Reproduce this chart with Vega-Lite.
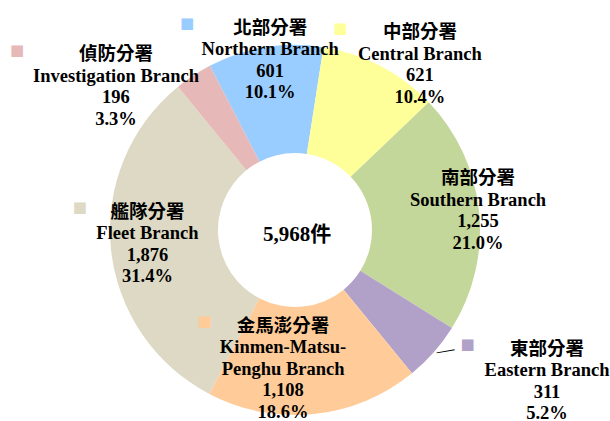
{
  "$schema": "https://vega.github.io/schema/vega-lite/v6.json",
  "width": 590,
  "height": 382,
  "padding": {"left": 0, "top": 39, "right": 20, "bottom": 0},
  "autosize": {"type": "none"},
  "background": "white",
  "config": {"view": {"stroke": null}},
  "data": {"values": [
    {"zh": "北部分署", "en": "Northern Branch", "count": 601, "order": 1},
    {"zh": "中部分署", "en": "Central Branch", "count": 621, "order": 2},
    {"zh": "南部分署", "en": "Southern Branch", "count": 1255, "order": 3},
    {"zh": "東部分署", "en": "Eastern Branch", "count": 311, "order": 4},
    {"zh": "金馬澎分署", "en": "Kinmen-Matsu-\nPenghu Branch", "count": 1108, "order": 5},
    {"zh": "艦隊分署", "en": "Fleet Branch", "count": 1876, "order": 6},
    {"zh": "偵防分署", "en": "Investigation Branch", "count": 196, "order": 7}
  ]},
  "transform": [
    {"window": [{"op": "sum", "field": "count", "as": "cumEnd"}], "sort": [{"field": "order"}], "frame": [null, 0]},
    {"joinaggregate": [{"op": "sum", "field": "count", "as": "total"}]},
    {"calculate": "datum.cumEnd - datum.count", "as": "cumStart"},
    {"calculate": "datum.cumEnd - datum.count / 2", "as": "mid"},
    {"calculate": "datum.zh + '\\n' + datum.en + '\\n' + format(datum.count, ',') + '\\n' + format(datum.count / datum.total, '.1%')", "as": "label"}
  ],
  "layer": [
    {
      "mark": {"type": "arc", "innerRadius": 77, "outerRadius": 185},
      "encoding": {
        "theta": {"field": "cumEnd", "type": "quantitative", "stack": null, "scale": {"range": [-0.4782, 5.805], "zero": true, "nice": false}},
        "theta2": {"field": "cumStart"},
        "color": {"field": "zh", "type": "nominal", "legend": null,
          "scale": {"domain": ["北部分署", "中部分署", "南部分署", "東部分署", "金馬澎分署", "艦隊分署", "偵防分署"],
                    "range": ["#99CCFF", "#FFFF99", "#C4D79B", "#B1A0C7", "#FFCC99", "#DDD9C4", "#E6B8B7"]}}
      }
    },
    {
      "transform": [
        {"aggregate": [{"op": "sum", "field": "count", "as": "tot"}]},
        {"calculate": "format(datum.tot, ',') + '件'", "as": "t"}
      ],
      "mark": {"type": "text", "font": "Liberation Serif, Noto Sans CJK TC", "fontSize": 21, "fontWeight": "bold", "color": "black", "dx": 2, "dy": 5, "align": "center", "baseline": "middle"},
      "encoding": {"text": {"field": "t"}}
    },
    {
      "transform": [{"filter": "datum.order == 1"}],
      "encoding": {"theta": {"field": "mid", "type": "quantitative", "stack": null}},
      "layer": [
        {"mark": {"type": "text", "radius": 173, "dx": 3, "dy": -31.5, "align": "center", "baseline": "middle", "lineBreak": "\n", "lineHeight": 21.5, "font": "Liberation Serif, Noto Sans CJK TC", "fontSize": 18.5, "fontWeight": "bold", "color": "black"},
         "encoding": {"text": {"field": "label"}}},
        {"mark": {"type": "text", "radius": 173, "dx": -80, "dy": -36, "align": "center", "baseline": "middle", "font": "DejaVu Sans", "fontSize": 15},
         "encoding": {"text": {"value": "■"}, "color": {"field": "zh", "type": "nominal", "legend": null}}}
      ]
    },
    {
      "transform": [{"filter": "datum.order == 2"}],
      "encoding": {"theta": {"field": "mid", "type": "quantitative", "stack": null}},
      "layer": [
        {"mark": {"type": "text", "radius": 208, "dx": 28.6, "dy": -13.5, "align": "center", "baseline": "middle", "lineBreak": "\n", "lineHeight": 21.5, "font": "Liberation Serif, Noto Sans CJK TC", "fontSize": 18.5, "fontWeight": "bold", "color": "black"},
         "encoding": {"text": {"field": "label"}}},
        {"mark": {"type": "text", "radius": 208, "dx": -50.9, "dy": -17.7, "align": "center", "baseline": "middle", "font": "DejaVu Sans", "fontSize": 15},
         "encoding": {"text": {"value": "■"}, "color": {"field": "zh", "type": "nominal", "legend": null}}}
      ]
    },
    {
      "transform": [{"filter": "datum.order == 3"}],
      "encoding": {"theta": {"field": "mid", "type": "quantitative", "stack": null}},
      "layer": [
        {"mark": {"type": "text", "radius": 184, "dx": 0, "dy": -33, "align": "center", "baseline": "middle", "lineBreak": "\n", "lineHeight": 21.5, "font": "Liberation Serif, Noto Sans CJK TC", "fontSize": 18.5, "fontWeight": "bold", "color": "black"},
         "encoding": {"text": {"field": "label"}}}
      ]
    },
    {
      "transform": [{"filter": "datum.order == 4"}],
      "encoding": {"theta": {"field": "mid", "type": "quantitative", "stack": null}},
      "layer": [
        {"mark": {"type": "text", "radius": 293, "dx": 32.2, "dy": -75, "align": "center", "baseline": "middle", "lineBreak": "\n", "lineHeight": 21.5, "font": "Liberation Serif, Noto Sans CJK TC", "fontSize": 18.5, "fontWeight": "bold", "color": "black"},
         "encoding": {"text": {"field": "label"}}},
        {"mark": {"type": "text", "radius": 293, "dx": -47.1, "dy": -79.8, "align": "center", "baseline": "middle", "font": "DejaVu Sans", "fontSize": 15},
         "encoding": {"text": {"value": "■"}, "color": {"field": "zh", "type": "nominal", "legend": null}}},
        {"mark": {"type": "text", "radius": 191, "dx": 8, "dy": -4.5, "angle": 350, "align": "center", "baseline": "middle", "font": "Liberation Serif", "fontSize": 18, "color": "black"},
         "encoding": {"text": {"value": "—"}}}
      ]
    },
    {
      "transform": [{"filter": "datum.order == 5"}],
      "encoding": {"theta": {"field": "mid", "type": "quantitative", "stack": null}},
      "layer": [
        {"mark": {"type": "text", "radius": 137, "dx": -25.8, "dy": -40.5, "align": "center", "baseline": "middle", "lineBreak": "\n", "lineHeight": 21.5, "font": "Liberation Serif, Noto Sans CJK TC", "fontSize": 18.5, "fontWeight": "bold", "color": "black"},
         "encoding": {"text": {"field": "label"}}},
        {"mark": {"type": "text", "radius": 137, "dx": -104.3, "dy": -45.3, "align": "center", "baseline": "middle", "font": "DejaVu Sans", "fontSize": 15},
         "encoding": {"text": {"value": "■"}, "color": {"field": "zh", "type": "nominal", "legend": null}}}
      ]
    },
    {
      "transform": [{"filter": "datum.order == 6"}],
      "encoding": {"theta": {"field": "mid", "type": "quantitative", "stack": null}},
      "layer": [
        {"mark": {"type": "text", "radius": 148, "dx": -0.3, "dy": -33, "align": "center", "baseline": "middle", "lineBreak": "\n", "lineHeight": 21.5, "font": "Liberation Serif, Noto Sans CJK TC", "fontSize": 18.5, "fontWeight": "bold", "color": "black"},
         "encoding": {"text": {"field": "label"}}},
        {"mark": {"type": "text", "radius": 148, "dx": -67.8, "dy": -38.3, "align": "center", "baseline": "middle", "font": "DejaVu Sans", "fontSize": 15},
         "encoding": {"text": {"value": "■"}, "color": {"field": "zh", "type": "nominal", "legend": null}}}
      ]
    },
    {
      "transform": [{"filter": "datum.order == 7"}],
      "encoding": {"theta": {"field": "mid", "type": "quantitative", "stack": null}},
      "layer": [
        {"mark": {"type": "text", "radius": 230, "dx": -52.7, "dy": 16.5, "align": "center", "baseline": "middle", "lineBreak": "\n", "lineHeight": 21.5, "font": "Liberation Serif, Noto Sans CJK TC", "fontSize": 18.5, "fontWeight": "bold", "color": "black"},
         "encoding": {"text": {"field": "label"}}},
        {"mark": {"type": "text", "radius": 230, "dx": -151.7, "dy": 12.2, "align": "center", "baseline": "middle", "font": "DejaVu Sans", "fontSize": 15},
         "encoding": {"text": {"value": "■"}, "color": {"field": "zh", "type": "nominal", "legend": null}}}
      ]
    }
  ]
}
